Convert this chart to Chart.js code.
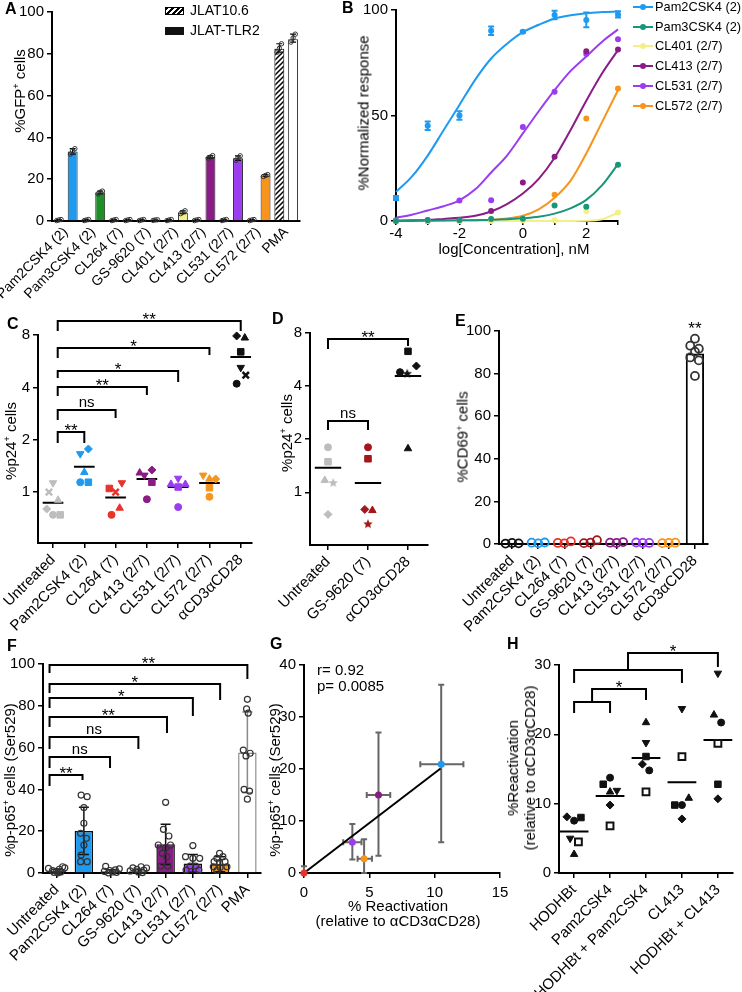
<!DOCTYPE html>
<html>
<head>
<meta charset="utf-8">
<title>TLR2 agonist panels</title>
<script src="https://cdn.jsdelivr.net/npm/chart.js@4.4.1/dist/chart.umd.min.js"></script>
<style>
  html, body { margin: 0; padding: 0; background: #fff; }
  body { position: relative; width: 742px; height: 992px; overflow: hidden; font-family: "Liberation Sans", Arial, sans-serif; color: #000; }
  canvas { position: absolute; left: 0; top: 0; }
  .lt { position: absolute; font-weight: bold; font-size: 16px; line-height: 16px; z-index: 5; }
  .vt { position: absolute; font-size: 15px; line-height: 17px; white-space: nowrap; text-align: center; transform: translate(-50%, -50%) rotate(-90deg); z-index: 5; }
  .ht { position: absolute; font-size: 15px; line-height: 15px; white-space: nowrap; text-align: center; transform: translate(-50%, -50%); z-index: 5; }
  .tx { position: absolute; font-size: 15px; line-height: 15px; white-space: nowrap; z-index: 5; }
  .lg { position: absolute; font-size: 13px; line-height: 13px; white-space: nowrap; z-index: 5; }
  .sw { position: absolute; width: 19px; height: 8px; z-index: 5; }
  .ln { position: absolute; width: 20px; height: 2px; z-index: 5; }
  .dt { position: absolute; width: 6px; height: 6px; border-radius: 50%; z-index: 6; }
  sup { font-size: 9px; line-height: 0; vertical-align: 0.6em; }
</style>
</head>
<body>
<canvas id="cA" width="742" height="992"></canvas>
<canvas id="cAo" width="742" height="992"></canvas>
<canvas id="cB" width="742" height="992"></canvas>
<canvas id="cC" width="742" height="992"></canvas>
<canvas id="cD" width="742" height="992"></canvas>
<canvas id="cE" width="742" height="992"></canvas>
<canvas id="cEo" width="742" height="992"></canvas>
<canvas id="cF" width="742" height="992"></canvas>
<canvas id="cFo" width="742" height="992"></canvas>
<canvas id="cG" width="742" height="992"></canvas>
<canvas id="cH" width="742" height="992"></canvas>

<div class="lt" style="left:5px;top:1px">A</div>
<div class="lt" style="left:342px;top:0px">B</div>
<div class="lt" style="left:7px;top:316px">C</div>
<div class="lt" style="left:272px;top:311px">D</div>
<div class="lt" style="left:455px;top:313px">E</div>
<div class="lt" style="left:7px;top:638px">F</div>
<div class="lt" style="left:270px;top:636px">G</div>
<div class="lt" style="left:507px;top:636px">H</div>

<div class="vt" style="left:19px;top:91px">%GFP<sup>+</sup> cells</div>
<div class="vt" style="left:363px;top:113px">%Normalized response</div>
<div class="ht" style="left:514px;top:248px">log[Concentration], nM</div>
<div class="vt" style="left:10px;top:441px">%p24<sup>+</sup> cells</div>
<div class="vt" style="left:286px;top:433px">%p24<sup>+</sup> cells</div>
<div class="vt" style="left:462px;top:437px">%CD69<sup>+</sup> cells</div>
<div class="vt" style="left:9px;top:780px">%p-p65<sup>+</sup> cells (Ser529)</div>
<div class="vt" style="left:274px;top:780px">%p-p65<sup>+</sup> cells (Ser529)</div>
<div class="ht" style="left:398px;top:913px">% Reactivation<br>(relative to αCD3αCD28)</div>
<div class="vt" style="left:521px;top:768px">%Reactivation<br>(relative to αCD3αCD28)</div>
<div class="tx" style="left:317px;top:662px">r= 0.92</div>
<div class="tx" style="left:317px;top:678px">p= 0.0085</div>

<div id="legA"></div>
<div id="legB"></div>

<script>
const FONT = '"Liberation Sans", Arial, sans-serif';
Chart.defaults.font.family = FONT;
Chart.defaults.font.size = 15;
Chart.defaults.color = '#000';
Chart.defaults.animation = false;
Chart.defaults.responsive = false;
Chart.defaults.events = [];
Chart.defaults.plugins.legend.display = false;
Chart.defaults.plugins.tooltip.enabled = false;

const blue = '#1e9af0', green = '#1f8f2a', teal = '#17967a', yellow = '#f4ef86',
      purple = '#8a1c85', violet = '#9b3cf0', orange = '#f7941d', red = '#e8322a',
      darkRed = '#a3161a', gray = '#bdbdbd', ink = '#111';

// ---- A: %GFP+ cells ----
const aCats = ['Pam2CSK4 (2)', 'Pam3CSK4 (2)', 'CL264 (7)', 'GS-9620 (7)', 'CL401 (2/7)', 'CL413 (2/7)', 'CL531 (2/7)', 'CL572 (2/7)', 'PMA'];
const aJlat106 = [0.5, 0.5, 0.5, 0.5, 0.5, 0.5, 0.5, 0.5, 82.4];
const aJlatTlr2 = [33.2, 13.6, 0.5, 0.5, 4.0, 30.6, 30.0, 21.8, 87.0];
const aJlat106Reps = [[0.2, 0.5, 0.7], [0.2, 0.5, 0.7], [0.2, 0.5, 0.7], [0.2, 0.5, 0.7], [0.2, 0.5, 0.7], [0.2, 0.5, 0.7], [0.2, 0.5, 0.7], [0.2, 0.5, 0.7], [80.8, 82.6, 84.8]];
const aJlatTlr2Reps = [[32.0, 33.6, 34.6], [13.0, 13.8, 14.3], [0.2, 0.5, 0.7], [0.3, 0.5, 0.6], [3.5, 4.2, 4.9], [30.0, 30.6, 31.3], [29.0, 30.2, 31.2], [21.3, 21.8, 22.2], [85.6, 87.6, 89.4]];
const aTlr2Colors = [blue, green, ink, ink, yellow, purple, violet, orange, '#fff'];
const aYTicks = [0, 10, 20, 30, 40, 50, 60, 70, 80, 90, 100];
const aJitter = [-0.08, 0, 0.08];

// ---- B: dose response ----
const bNames = ['Pam2CSK4 (2)', 'Pam3CSK4 (2)', 'CL401 (2/7)', 'CL413 (2/7)', 'CL531 (2/7)', 'CL572 (2/7)'];
const bColors = [blue, teal, yellow, purple, violet, orange];
const bLogConc = [-4, -3, -2, -1, 0, 1, 2, 3];
const bPam2 = [10.9, 45.1, 50.0, 90.2, 89.7, 97.6, 95.3, 97.9];
const bPam2Err = [1.0, 2.0, 2.0, 2.0, 0.5, 2.0, 3.5, 1.5];
const bPam3 = [0, 0.3, 0.3, 1.0, 1.1, 7.4, 6.8, 26.7];
const bCl401 = [0, 0, 0, 0, 0.2, 0.3, 4.6, 4.0];
const bCl413 = [0, 0, 0.5, 4.7, 18.2, 30.4, 80.5, 81.3];
const bCl531 = [0.3, 0.5, 9.7, 9.8, 44.5, 61.2, 79.1, 86.1];
const bCl572 = [0, 0, 0, 0.2, 1.0, 12.5, 48.6, 62.8];
const bFitX = [-4, -3.5, -3, -2.5, -2, -1.5, -1, -0.5, 0, 0.5, 1, 1.5, 2, 2.5, 3];
const bFitPam2 = [13.8, 21, 31, 43, 55, 67, 77, 84, 89.5, 93, 96, 97.5, 98.5, 99, 99.3];
const bFitPam3 = [0, 0, 0.1, 0.2, 0.3, 0.4, 0.5, 0.8, 1.3, 2, 3.5, 6, 10, 17, 27];
const bFitCl401 = [0, 0, 0, 0, 0, 0, 0, 0, 0, 0, 0, 0.05, 0.1, 0.8, 4];
const bFitCl413 = [0.2, 0.3, 0.5, 1, 1.5, 2.5, 4.5, 8, 13, 20, 30, 43, 57, 70, 81];
const bFitCl531 = [1.6, 3, 5, 7, 9.8, 15, 23, 31, 41.5, 52, 62, 71, 78, 85, 90.8];
const bFitCl572 = [0, 0, 0, 0, 0.1, 0.3, 0.6, 1.2, 2.5, 5.5, 11, 19, 32, 47, 62];
const bXTicks = [-4, -3, -2, -1, 0, 1, 2, 3];
const bYTicks = [0, 50, 100];

// ---- C: %p24+ cells (J-Lat reactivation) ----
const cCats = ['Untreated', 'Pam2CSK4 (2)', 'CL264 (7)', 'CL413 (2/7)', 'CL531 (2/7)', 'CL572 (2/7)', 'αCD3αCD28'];
const cColors = [gray, blue, red, purple, violet, orange, ink];
const cShapes = [['v', 'x', 't', 'd', 'c', 's'], ['v', 'd', 't', 'c', 's'], ['s', 'x', 'v', 't', 'c'], ['t', 'v', 'd', 's', 'c'], ['t', 'v', 's', 't', 'c'], ['v', 't', 'd', 's', 'c'], ['d', 't', 's', 'v', 'x', 'c']];
const cVals = [[1.13, 1.0, 0.9, 0.8, 0.74, 0.74], [1.66, 1.77, 1.3, 1.14, 1.14], [1.05, 1.0, 1.13, 0.81, 0.74], [1.29, 1.25, 1.34, 1.14, 0.91], [1.11, 1.2, 1.07, 1.11, 0.82], [1.25, 1.19, 1.19, 1.06, 0.94], [7.9, 7.7, 6.4, 5.2, 4.7, 4.2]];
const cJitter = [[0, -0.13, 0.16, -0.2, 0, 0.23], [-0.13, 0.13, 0, -0.13, 0.13], [-0.2, 0, 0.2, 0.13, -0.13], [-0.23, -0.08, 0.16, 0.16, 0], [-0.23, 0, 0, 0.23, 0], [-0.2, 0, 0.2, 0, 0], [-0.13, 0.13, 0, 0, 0.16, -0.13]];
const cMeans = [0.87, 1.4, 0.93, 1.19, 1.07, 1.13, 5.97];
const cYTicks = [1, 2, 4, 8];
const cSig = [
  { from: 0.15, to: 6, y: 9.63, legL: 10, legR: 10, text: '**' },
  { from: 0.15, to: 5, y: 6.74, legL: 10, legR: 7, text: '*' },
  { from: 0.15, to: 4, y: 4.97, legL: 7, legR: 11, text: '*' },
  { from: 0.15, to: 3, y: 4.02, legL: 9, legR: 8, text: '**' },
  { from: 0.15, to: 2, y: 2.96, legL: 10, legR: 8, text: 'ns' },
  { from: 0.15, to: 1, y: 2.21, legL: 11, legR: 11, text: '**' }
];

// ---- D: %p24+ cells (primary model) ----
const dCats = ['Untreated', 'GS-9620 (7)', 'αCD3αCD28'];
const dColors = [gray, darkRed, ink];
const dShapes = [['c', 's', 't', '*', 'd'], ['c', 's', 'd', 't', '*'], ['s', 'c', '*', 'd', 't']];
const dVals = [[1.8, 1.49, 1.17, 1.13, 0.75], [1.8, 1.55, 0.8, 0.79, 0.66], [6.3, 4.8, 4.7, 5.2, 1.77]];
const dJitter = [[0, 0, -0.08, 0.13, 0], [0, 0, -0.08, 0.11, 0], [0, -0.2, -0.02, 0.21, 0]];
const dMeans = [1.38, 1.13, 4.57];
const dSig = [
  { from: 0, to: 2, y: 7.43, legL: 10, legR: 7, text: '**' },
  { from: 0, to: 1, y: 2.54, legL: 9, legR: 9, text: 'ns' }
];

// ---- E: %CD69+ cells ----
const eCats = ['Untreated', 'Pam2CSK4 (2)', 'CL264 (7)', 'GS-9620 (7)', 'CL413 (2/7)', 'CL531 (2/7)', 'CL572 (2/7)', 'αCD3αCD28'];
const eColors = [ink, blue, red, darkRed, purple, violet, orange, '#333'];
const eMeans = [0.4, 0.5, 0.5, 0.7, 0.6, 0.5, 0.4, 89.4];
const eReps = [[0.2, 0.5, 0.3], [0.6, 0.3, 0.7], [0.5, 0.3, 1.2], [0.4, 0.6, 1.8], [0.6, 0.5, 0.9], [0.7, 0.5, 0.5], [0.4, 0.5, 0.6], [96.4, 93.1, 91.7, 90.3, 87.6, 86.2, 78.9]];
const eJitter = [[-0.25, 0, 0.25], [-0.25, 0, 0.25], [-0.25, 0, 0.25], [-0.25, 0, 0.25], [-0.25, 0, 0.25], [-0.25, 0, 0.25], [-0.25, 0, 0.25], [0, -0.18, 0.15, 0, -0.18, 0.15, 0]];
const eYTicks = [0, 20, 40, 60, 80, 100];
const eSig = [{ x: 7, y: 100.6, text: '**' }];

// ---- F: %p-p65+ cells ----
const fCats = ['Untreated', 'Pam2CSK4 (2)', 'CL264 (7)', 'GS-9620 (7)', 'CL413 (2/7)', 'CL531 (2/7)', 'CL572 (2/7)', 'PMA'];
const fColors = [ink, blue, red, darkRed, purple, violet, orange, '#fff'];
const fMeans = [1.0, 20.1, 0.8, 0.8, 13.7, 4.6, 4.2, 57.7];
const fSd = [0.8, 11.3, 0.8, 0.9, 9.6, 4.3, 3.6, 19.3];
const fReps = [
  [3.0, 2.5, 2.2, 1.8, 1.2, 0.8, 0.5, 0.3, 0.1],
  [37.3, 36.5, 31.3, 23.8, 19.0, 16.6, 13.4, 8.6, 5.4, 5.4],
  [3.2, 2.0, 1.5, 1.2, 0.8, 0.5, 0.3, 0.1],
  [3.0, 2.5, 2.4, 1.8, 1.4, 1.0, 0.5, 0.2],
  [33.8, 20.9, 17.7, 13.4, 13.4, 12.0, 9.4, 7.8, 3.3, 3.3],
  [13.1, 7.8, 7.0, 7.0, 3.3, 3.3, 1.4, 1.4],
  [9.4, 7.8, 7.0, 5.4, 5.0, 5.4, 3.0, 2.6, 3.0, 1.2],
  [83.1, 78.5, 76.5, 58.8, 57.3, 56.0, 40.0, 39.2, 35.3]
];
const fJitter = [
  [0.22, 0.3, -0.3, 0.1, -0.15, 0, 0.15, -0.1, 0.05],
  [-0.1, 0.12, 0, 0, -0.12, 0.09, 0, -0.1, -0.12, 0.12],
  [-0.2, 0.3, 0.15, -0.05, -0.25, 0.05, 0.2, -0.1],
  [0.1, -0.2, 0.3, -0.05, 0.2, -0.3, 0, 0.15],
  [0, -0.08, 0.12, -0.27, 0.18, 0, -0.12, 0.04, -0.18, 0.08],
  [0, -0.27, 0, 0.25, -0.1, 0.1, -0.25, 0.22],
  [-0.02, 0.1, -0.12, -0.22, -0.02, 0.18, -0.25, 0, 0.25, -0.12],
  [0, -0.03, 0.03, -0.15, 0.1, -0.05, -0.12, 0.08, 0]
];
const fSig = [
  { from: -0.26, to: 7, y: 99.5, legL: 8, legR: 14, text: '**' },
  { from: -0.26, to: 6, y: 90.4, legL: 9, legR: 16, text: '*' },
  { from: -0.26, to: 5, y: 83.6, legL: 10, legR: 18, text: '*' },
  { from: -0.26, to: 4.05, y: 74.8, legL: 10, legR: 16, text: '**' },
  { from: -0.26, to: 3, y: 65.2, legL: 12, legR: 12, text: 'ns' },
  { from: -0.26, to: 1.96, y: 55.6, legL: 11, legR: 11, text: 'ns' },
  { from: -0.26, to: 0.95, y: 46.9, legL: 11, legR: 5, text: '**' }
];

// ---- G: correlation ----
const gNames = ['Untreated', 'CL531 (2/7)', 'CL572 (2/7)', 'CL413 (2/7)', 'Pam2CSK4 (2)'];
const gColors = [red, violet, orange, purple, blue];
const gReact = [0, 3.7, 4.6, 5.7, 10.5];
const gReactLo = [0, 3.0, 4.1, 4.8, 8.9];
const gReactHi = [0, 4.4, 5.2, 6.6, 12.2];
const gP65 = [0, 5.9, 2.75, 15.0, 20.9];
const gP65Lo = [0, 2.6, 0, 3.3, 5.9];
const gP65Hi = [1.3, 9.4, 6.5, 27.0, 36.2];
const gFitX = [0, 10.45];
const gFitY = [0, 20.1];
const gXTicks = [0, 5, 10, 15];
const gYTicks = [0, 10, 20, 30, 40];

// ---- H: combinations ----
const hCats = ['HODHBt', 'Pam2CSK4', 'HODHBt + Pam2CSK4', 'CL413', 'HODHBt + CL413'];
const hShapes = [['d', 'c', 's', 'v', 'o', 't'], ['c', 's', 't', 'v', 'd', 'o'], ['t', 'v', 's', 'd', 'c', 'o'], ['v', 'o', 't', 's', 'c', 'd'], ['v', 't', 'c', 'o', 's', 'd']];
const hVals = [[8.1, 7.55, 8.0, 5.0, 4.5, 2.7], [13.75, 12.8, 11.7, 11.9, 9.8, 6.8], [21.7, 18.8, 16.8, 15.7, 14.8, 11.7], [23.7, 16.8, 10.8, 9.8, 9.8, 7.8], [28.8, 22.8, 21.7, 18.7, 12.8, 10.7]];
const hJitter = [[-0.2, 0, 0.19, -0.11, 0.12, 0], [0, -0.19, 0, 0.19, 0, 0], [0, 0, 0, -0.1, 0.09, 0], [0, 0, 0.19, -0.2, 0, 0], [0, -0.11, 0.09, 0, 0, 0]];
const hMeans = [6.0, 11.1, 16.6, 13.1, 19.2];
const hYTicks = [0, 10, 20, 30];
const hSig = [
  { from: 0, to: 1, y: 24.7, legL: 11, legR: 11, top: 26.6, end: 2, legE: 11, text: '*' },
  { from: 0, to: 3, y: 29.3, legL: 13, legR: 13, top: 31.8, end: 4, legE: 14, text: '*' }
];

// ---------- helpers ----------
// plot rectangle of a panel in page pixels; W/H = room kept for tick labels
function frame(l, t, r, b) { return { l, t, r, b, W: Math.min(l, 60), H: Math.min(992 - b, 140) }; }
const pad = f => ({ padding: { left: f.l - f.W, top: f.t, right: 742 - f.r, bottom: 992 - f.b - f.H } });
const bare = f => ({ padding: { left: f.l, top: f.t, right: 742 - f.r, bottom: 992 - f.b } });
const fitY = W => s => { s.width = W; s.paddingTop = s.paddingBottom = s.paddingLeft = s.paddingRight = 0; };
const fitX = H => s => { s.height = H; s.paddingLeft = s.paddingRight = s.paddingTop = s.paddingBottom = 0; };
const axisLine = { color: '#000', width: 2 };

function yAx(type, min, max, ticks, f) {
  return {
    type, min, max, afterFit: fitY(f.W),
    afterBuildTicks: s => { s.ticks = ticks.map(value => ({ value })); },
    border: axisLine,
    grid: { drawOnChartArea: false, color: '#000', lineWidth: 1.5, tickLength: 5 },
    ticks: { color: '#000', font: { size: 15 }, padding: 3, callback: v => String(v) }
  };
}
function xCat(size, tick, f) {
  return {
    type: 'category', offset: true, afterFit: fitX(f.H),
    border: axisLine,
    grid: { offset: false, drawOnChartArea: false, color: '#000', lineWidth: 1.5, tickLength: tick },
    ticks: { color: '#000', font: { size }, minRotation: 45, maxRotation: 45, autoSkip: false, padding: 3 }
  };
}
function xNum(min, max, ticks, fmt, rot, f, tickPad = 3, tickLen = 5) {
  return {
    type: 'linear', min, max, afterFit: fitX(f.H),
    afterBuildTicks: s => { s.ticks = ticks.map(value => ({ value })); },
    border: axisLine,
    grid: { drawOnChartArea: false, color: '#000', lineWidth: 1.5, tickLength: tickLen },
    ticks: { color: '#000', font: { size: 15 }, minRotation: rot, maxRotation: rot, autoSkip: false, padding: tickPad, callback: fmt }
  };
}

function starImg(color, r) {
  const c = document.createElement('canvas');
  const s = Math.ceil(r * 2 + 2);
  c.width = c.height = s;
  const g = c.getContext('2d');
  g.fillStyle = color;
  g.beginPath();
  for (let k = 0; k < 10; k++) {
    const a = -Math.PI / 2 + k * Math.PI / 5, rr = k % 2 ? r * 0.45 : r;
    g.lineTo(s / 2 + rr * Math.cos(a), s / 2 + rr * Math.sin(a));
  }
  g.closePath();
  g.fill();
  return c;
}
function shapeOf(code, color) {
  const base = { style: 'circle', rot: 0, r: 3.5, bg: color, bd: color, bw: 1 };
  if (code === 's') return { ...base, style: 'rect', r: 4.6 };
  if (code === 't') return { ...base, style: 'triangle', r: 4.3 };
  if (code === 'v') return { ...base, style: 'triangle', rot: 180, r: 4.3 };
  if (code === 'd') return { ...base, style: 'rectRot', r: 4 };
  if (code === 'x') return { ...base, style: 'crossRot', r: 4.5, bw: 2.5 };
  if (code === '*') return { ...base, style: starImg(color, 5), r: 5 };
  if (code === 'o') return { ...base, style: 'rect', r: 4.8, bg: '#fff', bw: 2 };
  return base;
}
function dots(vals, jit, shapes, color, i) {
  const P = shapes.map(s => shapeOf(s, color));
  return {
    type: 'scatter', order: 0, clip: false,
    data: vals.map((v, k) => ({ x: i + jit[k], y: v })),
    pointStyle: P.map(p => p.style), pointRotation: P.map(p => p.rot), pointRadius: P.map(p => p.r),
    pointBackgroundColor: P.map(p => p.bg), pointBorderColor: P.map(p => p.bd), pointBorderWidth: P.map(p => p.bw)
  };
}
function meanLines(means, half) {
  const d = [];
  means.forEach((m, i) => { d.push({ x: i - half, y: m }, { x: i + half, y: m }, { x: i + 0.5, y: null }); });
  return { type: 'line', data: d, borderColor: '#000', borderWidth: 2, pointRadius: 0, spanGaps: false, clip: false, order: 1 };
}
function openCircles(reps, jit, colors, r, bw) {
  const data = [], bc = [];
  reps.forEach((g, i) => g.forEach((v, k) => { data.push({ x: i + jit[i][k], y: v }); bc.push(colors[i]); }));
  return { type: 'scatter', order: 0, clip: false, data, pointRadius: r, pointBorderWidth: bw, pointBackgroundColor: 'rgba(0,0,0,0)', pointBorderColor: bc };
}
// transparent scatter layer sitting exactly over a bar panel (same plot rectangle, hidden axes)
function overlay(id, f, n, yMin, yMax, datasets, plugins) {
  return new Chart(document.getElementById(id), {
    type: 'scatter',
    data: { datasets },
    options: {
      layout: bare(f),
      scales: {
        x: { type: 'linear', display: false, offset: false, min: -0.5, max: n - 0.5 },
        y: { type: 'linear', display: false, min: yMin, max: yMax }
      },
      plugins
    }
  });
}

// significance brackets and text, drawn through the chart's own scales
function drawSig(ctx, t, x, y) {
  if (t.includes('*')) { ctx.font = `17px ${FONT}`; ctx.fillText(t, x, y + 4); }
  else { ctx.font = `15px ${FONT}`; ctx.fillText(t, x, y - 3); }
}
const sigPlugin = {
  id: 'sig',
  afterDraw(chart, args, o) {
    if (!o.items) return;
    const ctx = chart.ctx, xs = chart.scales.x, ys = chart.scales.y;
    const X = v => xs.getPixelForValue(v), Y = v => ys.getPixelForValue(v);
    ctx.save();
    ctx.strokeStyle = '#000'; ctx.fillStyle = '#000'; ctx.lineWidth = 2;
    ctx.textAlign = 'center'; ctx.textBaseline = 'alphabetic';
    for (const b of o.items) {
      let cx, ty;
      if (b.from != null) {
        const x1 = X(b.from), x2 = X(b.to), y = Math.round(Y(b.y));
        ctx.beginPath();
        ctx.moveTo(x1, y + b.legL); ctx.lineTo(x1, y); ctx.lineTo(x2, y); ctx.lineTo(x2, y + b.legR);
        ctx.stroke();
        cx = (x1 + x2) / 2; ty = y;
        if (b.end != null) {
          const yt = Math.round(Y(b.top)), xe = X(b.end);
          ctx.beginPath();
          ctx.moveTo(cx, y); ctx.lineTo(cx, yt); ctx.lineTo(xe, yt); ctx.lineTo(xe, yt + b.legE);
          ctx.stroke();
          cx = (cx + xe) / 2; ty = yt;
        }
      } else {
        cx = X(b.x); ty = Y(b.y);
      }
      drawSig(ctx, b.text, cx, ty);
    }
    ctx.restore();
  }
};

// error bars (vertical and horizontal) from data arrays
function drawErrs(chart, o) {
  const xs = chart.scales.x, ys = chart.scales.y, ctx = chart.ctx, c = o.cap;
  ctx.save();
  ctx.lineWidth = o.width || 1.5;
  for (const e of o.items) {
    ctx.strokeStyle = e.color || '#000';
    const x = xs.getPixelForValue(e.x);
    ctx.beginPath();
    if (e.lo != null) {
      const y1 = ys.getPixelForValue(e.lo), y2 = ys.getPixelForValue(e.hi);
      ctx.moveTo(x, y1); ctx.lineTo(x, y2);
      ctx.moveTo(x - c, y2); ctx.lineTo(x + c, y2);
      if (e.lo !== e.y) { ctx.moveTo(x - c, y1); ctx.lineTo(x + c, y1); }
    }
    if (e.xlo != null && e.xlo !== e.xhi) {
      const y = ys.getPixelForValue(e.y), x1 = xs.getPixelForValue(e.xlo), x2 = xs.getPixelForValue(e.xhi);
      ctx.moveTo(x1, y); ctx.lineTo(x2, y);
      ctx.moveTo(x1, y - c); ctx.lineTo(x1, y + c);
      ctx.moveTo(x2, y - c); ctx.lineTo(x2, y + c);
    }
    ctx.stroke();
  }
  ctx.restore();
}
const errPlugin = {
  id: 'errs',
  beforeDatasetsDraw(chart, args, o) { if (o.items) drawErrs(chart, o); }
};
Chart.register(sigPlugin, errPlugin);

// ---------- A ----------
const fA = frame(52, 12, 300, 221);
const hatchCanvas = document.createElement('canvas');
hatchCanvas.width = hatchCanvas.height = 5;
(() => {
  const g = hatchCanvas.getContext('2d');
  g.fillStyle = '#fff'; g.fillRect(0, 0, 5, 5);
  g.strokeStyle = '#000'; g.lineWidth = 1.5;
  g.beginPath();
  g.moveTo(-1, 6); g.lineTo(6, -1); g.moveTo(-1, 1); g.lineTo(1, -1); g.moveTo(4, 6); g.lineTo(6, 4);
  g.stroke();
})();
const hatch = document.getElementById('cA').getContext('2d').createPattern(hatchCanvas, 'repeat');

new Chart(document.getElementById('cA'), {
  type: 'bar',
  data: {
    labels: aCats,
    datasets: [
      { label: 'JLAT10.6', data: aJlat106, backgroundColor: aJlat106.map((v, i) => i === 8 ? hatch : ink), borderColor: '#000', borderWidth: 1, barPercentage: 0.72, categoryPercentage: 1 },
      { label: 'JLAT-TLR2', data: aJlatTlr2, backgroundColor: aTlr2Colors, borderColor: '#222', borderWidth: 1, barPercentage: 0.72, categoryPercentage: 1 }
    ]
  },
  options: {
    layout: pad(fA),
    scales: { x: xCat(14, 0, fA), y: yAx('linear', 0, 100, aYTicks, fA) }
  }
});
const aPts = [], aErr = [];
aCats.forEach((c, i) => {
  [[aJlat106Reps, -0.25], [aJlatTlr2Reps, 0.25]].forEach(([reps, off]) => {
    reps[i].forEach((v, k) => aPts.push({ x: i + off + aJitter[k], y: v }));
    aErr.push({ x: i + off, y: reps[i][1], lo: Math.min(...reps[i]), hi: Math.max(...reps[i]) });
  });
});
overlay('cAo', fA, aCats.length, 0, 100,
  [{ type: 'scatter', clip: false, data: aPts, pointRadius: 2.2, pointBorderWidth: 1, pointBackgroundColor: 'rgba(0,0,0,0)', pointBorderColor: '#333' }],
  { errs: { cap: 3, width: 1.2, items: aErr } });

// ---------- B ----------
const fB = frame(396, 10, 618, 221);
const bPoints = [bPam2, bPam3, bCl401, bCl413, bCl531, bCl572];
const bFits = [bFitPam2, bFitPam3, bFitCl401, bFitCl413, bFitCl531, bFitCl572];
const bSets = [];
bNames.forEach((n, k) => {
  bSets.push({ type: 'line', label: n, order: 1, clip: false, data: bFitX.map((x, i) => ({ x, y: bFits[k][i] })), borderColor: bColors[k], borderWidth: 2, pointRadius: 0, cubicInterpolationMode: 'monotone' });
  bSets.push({ type: 'scatter', label: n, order: 0, clip: false, data: bLogConc.map((x, i) => ({ x, y: bPoints[k][i] })), pointRadius: 3, pointBorderWidth: 0, pointBackgroundColor: bColors[k], pointBorderColor: bColors[k] });
});
new Chart(document.getElementById('cB'), {
  type: 'scatter',
  data: { datasets: bSets },
  options: {
    layout: pad(fB),
    scales: {
      x: xNum(-4, 3, bXTicks, v => (v % 2 === 0 ? String(v) : ''), 0, fB, 0, 4),
      y: yAx('linear', 0, 100, bYTicks, fB)
    },
    plugins: { errs: { cap: 3, width: 2, items: bLogConc.map((x, i) => ({ x, y: bPam2[i], lo: bPam2[i] - bPam2Err[i], hi: bPam2[i] + bPam2Err[i], color: blue })) } }
  }
});

// legends (HTML text)
(() => {
  const la = document.getElementById('legA');
  la.innerHTML =
    '<div class="sw" style="left:165px;top:7px;border:1px solid #000;box-sizing:border-box;background:repeating-linear-gradient(135deg,#000 0 2px,#fff 2px 4px)"></div>' +
    '<div class="lg" style="left:190px;top:4px;font-size:14px">JLAT10.6</div>' +
    '<div class="sw" style="left:165px;top:27px;background:#111"></div>' +
    '<div class="lg" style="left:190px;top:24px;font-size:14px">JLAT-TLR2</div>';
  const lb = document.getElementById('legB');
  const rows = [7, 27, 46, 66, 86, 106];
  lb.innerHTML = bNames.map((n, k) =>
    `<div class="ln" style="left:633px;top:${rows[k] - 1}px;background:${bColors[k]}"></div>` +
    `<div class="dt" style="left:640px;top:${rows[k] - 3}px;background:${bColors[k]}"></div>` +
    `<div class="lg" style="left:655px;top:${rows[k] - 7}px;font-size:12.8px">${n}</div>`).join('');
})();

// ---------- C ----------
const fC = frame(38, 335, 252, 543);
new Chart(document.getElementById('cC'), {
  type: 'scatter',
  data: { datasets: [meanLines(cMeans, 0.33), ...cVals.map((v, i) => dots(v, cJitter[i], cShapes[i], cColors[i], i))] },
  options: {
    layout: pad(fC),
    scales: {
      x: xNum(-0.48, 6.36, cCats.map((c, i) => i), v => cCats[Math.round(v)], 45, fC),
      y: yAx('logarithmic', 0.51, 8, cYTicks, fC)
    },
    plugins: { sig: { items: cSig } }
  }
});

// ---------- D ----------
const fD = frame(310, 333, 428, 545);
new Chart(document.getElementById('cD'), {
  type: 'scatter',
  data: { datasets: [meanLines(dMeans, 0.33), ...dVals.map((v, i) => dots(v, dJitter[i], dShapes[i], dColors[i], i))] },
  options: {
    layout: pad(fD),
    scales: {
      x: xNum(-0.45, 2.5, dCats.map((c, i) => i), v => dCats[Math.round(v)], 45, fD),
      y: yAx('logarithmic', 0.503, 8, cYTicks, fD)
    },
    plugins: { sig: { items: dSig } }
  }
});

// ---------- E ----------
const fE = frame(499, 331, 708, 544);
new Chart(document.getElementById('cE'), {
  type: 'bar',
  data: {
    labels: eCats,
    datasets: [{ data: eMeans, backgroundColor: '#fff', borderColor: '#000', borderWidth: 2, barPercentage: 0.7, categoryPercentage: 1 }]
  },
  options: {
    layout: pad(fE),
    scales: { x: xCat(15, 5, fE), y: yAx('linear', 0, 100, eYTicks, fE) }
  }
});
overlay('cEo', fE, eCats.length, 0, 100, [openCircles(eReps, eJitter, eColors, 4, 1.8)], { sig: { items: eSig } });

// ---------- F ----------
const fF = frame(43, 664, 261, 873);
new Chart(document.getElementById('cF'), {
  type: 'bar',
  data: {
    labels: fCats,
    datasets: [{ data: fMeans, backgroundColor: fColors, borderColor: fColors.map((c, i) => i === 7 ? '#8a8a8a' : '#111'), borderWidth: 1.5, barPercentage: 0.68, categoryPercentage: 1 }]
  },
  options: {
    layout: pad(fF),
    scales: { x: xCat(15, 5, fF), y: yAx('linear', 0, 100, eYTicks, fF) }
  }
});
overlay('cFo', fF, fCats.length, 0, 100, [openCircles(fReps, fJitter, fColors.map(() => '#333'), 3, 1.2)], {
  sig: { items: fSig },
  errs: { cap: 5, width: 1.5, items: fMeans.map((m, i) => ({ x: i, y: m, lo: Math.max(0, m - fSd[i]), hi: m + fSd[i], color: i === 7 ? '#8a8a8a' : '#111' })) }
});

// ---------- G ----------
const fG = frame(304, 665, 500, 873);
new Chart(document.getElementById('cG'), {
  type: 'scatter',
  data: {
    datasets: [
      { type: 'line', order: 1, clip: false, data: gFitX.map((x, i) => ({ x, y: gFitY[i] })), borderColor: '#000', borderWidth: 2, pointRadius: 0 },
      { type: 'scatter', order: 0, clip: false, data: gReact.map((x, i) => ({ x, y: gP65[i] })), pointRadius: 3.5, pointBorderWidth: 0, pointBackgroundColor: gColors, pointBorderColor: gColors }
    ]
  },
  options: {
    layout: pad(fG),
    scales: { x: xNum(0, 15, gXTicks, v => String(v), 0, fG, 6, 5), y: yAx('linear', 0, 40, gYTicks, fG) },
    plugins: {
      errs: { cap: 3, width: 2, items: gReact.map((x, i) => ({ x, y: gP65[i], lo: gP65Lo[i], hi: gP65Hi[i], xlo: gReactLo[i], xhi: gReactHi[i], color: '#666' })) }
    }
  }
});

// ---------- H ----------
const fH = frame(559, 665, 733, 873);
new Chart(document.getElementById('cH'), {
  type: 'scatter',
  data: { datasets: [meanLines(hMeans, 0.4), ...hVals.map((v, i) => dots(v, hJitter[i], hShapes[i], ink, i))] },
  options: {
    layout: pad(fH),
    scales: {
      x: xNum(-0.42, 4.42, hCats.map((c, i) => i), v => hCats[Math.round(v)], 45, fH),
      y: yAx('linear', 0, 30, hYTicks, fH)
    },
    plugins: { sig: { items: hSig } }
  }
});
</script>
</body>
</html>
